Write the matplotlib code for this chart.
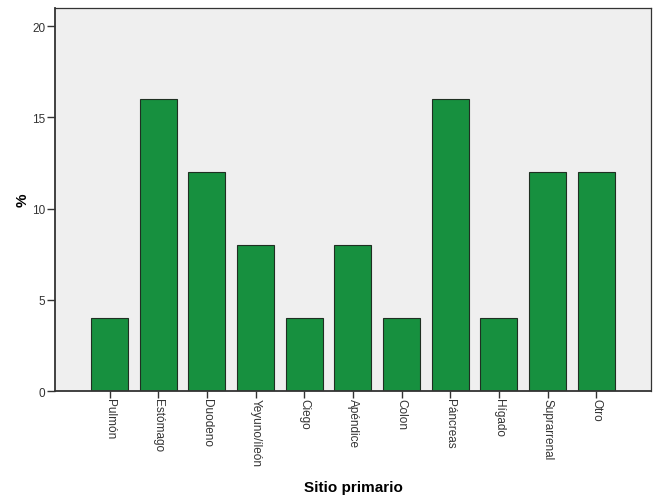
import matplotlib
matplotlib.use("Agg")
from matplotlib import pyplot as plt
import numpy as np

plt.rcParams['font.family'] = ['Liberation Sans', 'DejaVu Sans']

# data
sites = ['Pulmón', 'Estómago', 'Duodeno', 'Yeyuno/íleón', 'Ciego', 'Apéndice',
         'Colon', 'Páncreas', 'Hígado', 'Suprarrenal', 'Otro']
percent = [4, 16, 12, 8, 4, 8, 4, 16, 4, 12, 12]
y_ticks = [0, 5, 10, 15, 20]

fig = plt.figure(figsize=(6.57, 5.02), dpi=100)
ax = fig.add_axes([0.0837, 0.219, 0.907, 0.763])
ax.set_facecolor('#efefef')

x = np.arange(len(sites))
ax.bar(x, percent, width=0.76, color='#17903f', edgecolor='#1f2f22', linewidth=0.8, zorder=2)

ax.set_xlim(-1.12, len(sites) - 1 + 1.12)
ax.set_ylim(0, 21)
ax.set_yticks(y_ticks)
ax.set_xticks(x)
ax.set_xticklabels(sites, rotation=270, fontsize=8.5, color='#333333')
ax.tick_params(axis='y', labelsize=8.5, direction='out', length=6, width=1,
               color='#333333', labelcolor='#333333', pad=1)
ax.tick_params(axis='x', direction='out', length=5, width=1, color='#333333', pad=0)

for s in ['left', 'bottom']:
    ax.spines[s].set_linewidth(1.3)
    ax.spines[s].set_color('#333333')
for s in ['top', 'right']:
    ax.spines[s].set_linewidth(0.9)
    ax.spines[s].set_color('#333333')

ax.set_ylabel('%', fontsize=11, fontweight='bold', labelpad=2)
ax.set_xlabel('Sitio primario', fontsize=11, fontweight='bold', labelpad=10)

plt.savefig('out.png', dpi=100)
